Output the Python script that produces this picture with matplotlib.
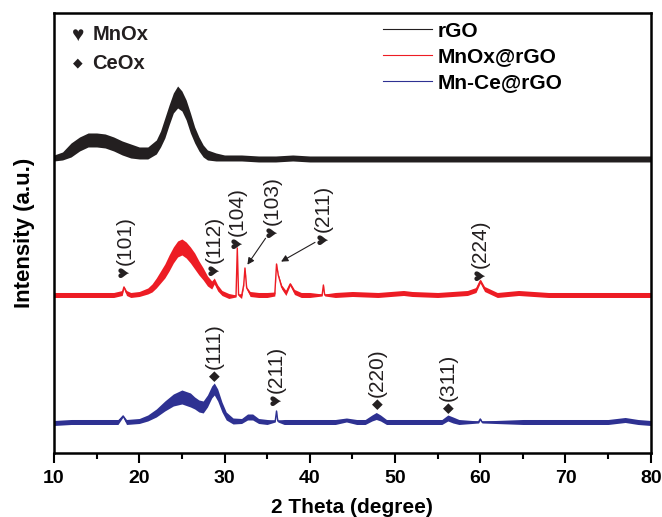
import matplotlib
matplotlib.use("Agg")
import numpy as np
import matplotlib.pyplot as plt
from matplotlib.ticker import MultipleLocator

plt.rcParams['font.family'] = ['Liberation Sans', 'DejaVu Sans']

# rGO (black) - mid line and noise band half-width
rgo_x = [10, 11, 12, 13, 14, 15, 16, 17, 18, 19, 20, 21, 22, 22.5, 23, 23.5, 24, 24.5,
         25, 25.5, 26, 26.5, 27, 27.5, 28, 29, 30, 32, 34, 36, 38, 40, 42, 44, 46, 48,
         50, 55, 60, 65, 70, 75, 80]
rgo_y = [295, 297, 303, 309, 313, 313, 312, 309, 305, 302, 300, 300, 306, 314, 325, 338,
         350, 356, 352, 343, 330, 318, 309, 302, 298, 296, 295, 295, 294, 294, 295, 294,
         294, 294, 294, 294, 294, 294, 294, 294, 294, 294, 294]
rgo_w = [3, 4, 7, 7, 7, 7, 7, 7, 7, 7, 6, 6, 7, 8, 10, 10, 10, 11, 10, 10, 10, 8, 7, 6,
         5, 4, 3, 3, 3, 3, 3, 3, 3, 3, 3, 3, 3, 3, 3, 3, 3, 3, 3]

# MnOx@rGO (red)
red_x = [10, 12, 14, 16, 17, 18, 18.2, 18.5, 19, 20, 21, 21.5, 22, 22.5, 23, 23.5, 24,
         24.5, 25, 25.5, 26, 26.5, 27, 27.5, 28, 28.5, 28.8, 29.2, 29.7, 30.5, 31.35,
         31.5, 31.65, 32.0, 32.25, 32.4, 32.6, 33, 34, 35, 35.9, 36.1, 36.3, 36.7, 37.2,
         37.7, 38.2, 39, 40, 41.45, 41.6, 41.75, 43, 45, 48, 51, 52, 55, 58.5, 59.5,
         60.0, 60.5, 62, 64.5, 68, 72, 76, 80]
red_y = [158, 158, 158, 158, 158, 160, 166, 160, 158, 159, 162, 165, 170, 176, 182, 190,
         198, 204, 206, 203, 198, 192, 185, 179, 172, 168, 172, 165, 160, 157, 157,
         205, 158, 157, 168, 185, 165, 159, 158, 158, 159, 189, 178, 166, 160,
         169, 161, 158, 158, 158, 168, 158, 158, 159, 158, 160, 159, 158, 160, 163,
         172, 164, 158, 160, 158, 158, 158, 158]
red_w = [2.5, 2.5, 2.5, 2.5, 2.5, 2.5, 1, 2.5, 2.5, 2.5, 3, 4, 5, 6, 7, 8, 8,
         8, 8, 8, 8, 8, 7, 6, 5, 4, 3, 3, 2.5, 2.5, 1,
         0.5, 1, 2.5, 1, 0.5, 1, 2.5, 2.5, 2.5, 2, 0.5, 1, 2, 2.5,
         1.5, 2.5, 2.5, 2.5, 1, 0.5, 1, 2.5, 2.5, 2.5, 2.5, 2.5, 2.5, 2.5, 2.5,
         2, 2.5, 2.5, 2.5, 2.5, 2.5, 2.5, 2.5]

# Mn-Ce@rGO (blue)
blue_x = [10, 12, 14, 16, 17.5, 18.1, 18.5, 20, 21, 22, 23, 24, 25, 26, 26.5, 27, 27.5,
          28, 28.5, 28.8, 29.2, 29.7, 30.2, 31, 32, 32.7, 33.3, 34, 35, 35.95, 36.1,
          36.25, 37, 40, 43, 44.3, 45.5, 46.5, 47.3, 47.8, 48.3, 49, 50, 52, 54, 55.5,
          56.2, 56.8, 57.5, 59.8, 60, 60.2, 65, 70, 75, 77, 78.5, 80]
blue_y = [30, 31, 31, 31, 31, 37, 31, 32, 35, 40, 47, 53, 56, 53, 50, 47, 46,
          52, 61, 64, 58, 46, 37, 32, 32, 36, 36, 32, 31, 32, 42,
          32, 31, 31, 31, 33, 31, 31, 35, 37, 35, 31, 31, 31, 31, 31,
          35, 33, 31, 31, 34, 31, 31, 31, 31, 33, 31, 30]
blue_w = [2.5, 2.5, 2.5, 2.5, 2.5, 1, 2.5, 2.5, 3, 4, 5, 6, 7, 7, 6, 6, 6,
          6, 6, 6, 6, 5, 4, 3, 2.5, 3, 3, 2.5, 2.5, 1, 0.5,
          1, 2.5, 2.5, 2.5, 2, 2.5, 2.5, 3, 3.5, 3, 2.5, 2.5, 2.5, 2.5, 2.5,
          3, 3, 2.5, 1, 1, 1, 2.5, 2.5, 2.5, 2.5, 2.5, 2.5]

# peak labels: phase symbol, Miller index, x, y of symbol centre
label_sym = ["\u2665", "\u2665", "\u2665", "\u2665", "\u2665",
             "\u2665", "\u25c6", "\u2665", "\u25c6", "\u25c6"]
label_hkl = ["(101)", "(112)", "(104)", "(103)", "(211)",
             "(224)", "(111)", "(211)", "(220)", "(311)"]
label_x = [18.3, 28.85, 31.5, 35.6, 41.6, 60.05, 28.85, 36.05, 47.9, 56.2]
label_y = [181, 183, 210, 221, 214, 178, 77, 53, 49, 45]

# arrows: tail (near label) -> head (peak)
arrow_tail = [(35.0, 217), (40.9, 212)]
arrow_head = [(32.5, 186), (36.35, 190)]

c_black = '#231f20'
c_red = '#ed1c24'
c_blue = '#2e3192'
sym_size = {"\u2665": 14, "\u25c6": 10}

fig = plt.figure(figsize=(6.62, 5.17), dpi=100)
ax = fig.add_axes([0.0816, 0.1238, 0.9014, 0.8511])

for x, y, w, c, name in [(rgo_x, rgo_y, rgo_w, c_black, 'rGO'),
                         (red_x, red_y, red_w, c_red, 'MnOx@rGO'),
                         (blue_x, blue_y, blue_w, c_blue, 'Mn-Ce@rGO')]:
    x = np.array(x)
    y = np.array(y)
    w = np.array(w)
    ax.fill_between(x, y - w, y + w, color=c, lw=0)
    ax.plot(x, y, color=c, lw=1.0)
    ax.plot([], [], color=c, lw=0.8, label=name)

for s, t, x, y in zip(label_sym, label_hkl, label_x, label_y):
    ax.text(x, y, s, rotation=90, ha='center', va='center', fontsize=sym_size[s],
            color='#231f20')
    ax.text(x, y + 7, t, rotation=90, ha='center', va='bottom', fontsize=15,
            color='#231f20')

for tail, head in zip(arrow_tail, arrow_head):
    ax.annotate('', xy=head, xytext=tail,
                arrowprops=dict(arrowstyle='-|>', lw=0.8, color='#231f20',
                                mutation_scale=10))

ax.text(0.04, 0.949, "\u2665", transform=ax.transAxes, fontsize=15,
        ha='center', va='center', color='#231f20')
ax.text(0.04, 0.886, "\u25c6", transform=ax.transAxes, fontsize=9,
        ha='center', va='center', color='#231f20')
ax.text(0.064, 0.95, "MnOx", transform=ax.transAxes, fontsize=14.5,
        fontweight='bold', va='center', color='#231f20')
ax.text(0.064, 0.886, "CeOx", transform=ax.transAxes, fontsize=14.5,
        fontweight='bold', va='center', color='#231f20')

ax.legend(loc='upper left', bbox_to_anchor=(0.551, 0.98), frameon=False,
          borderaxespad=0, borderpad=0, handlelength=2.35, handletextpad=0.3,
          labelspacing=0.32, prop={'weight': 'bold', 'size': 15})

ax.set_xlim(10, 80)
ax.set_ylim(0, 440)
ax.set_yticks([])
ax.xaxis.set_major_locator(MultipleLocator(10))
ax.xaxis.set_minor_locator(MultipleLocator(5))
ax.tick_params(axis='x', which='major', length=7, width=1.5, direction='out',
               labelsize=14, pad=5)
ax.tick_params(axis='x', which='minor', length=4, width=1.5, direction='out')
for lab in ax.get_xticklabels():
    lab.set_fontweight('bold')
for s in ax.spines.values():
    s.set_linewidth(1.8)

ax.set_xlabel('2 Theta (degree)', fontsize=15, fontweight='bold', labelpad=8)
ax.set_ylabel('Intensity (a.u.)', fontsize=16, fontweight='bold', labelpad=14)

fig.savefig('out.png', dpi=100)
